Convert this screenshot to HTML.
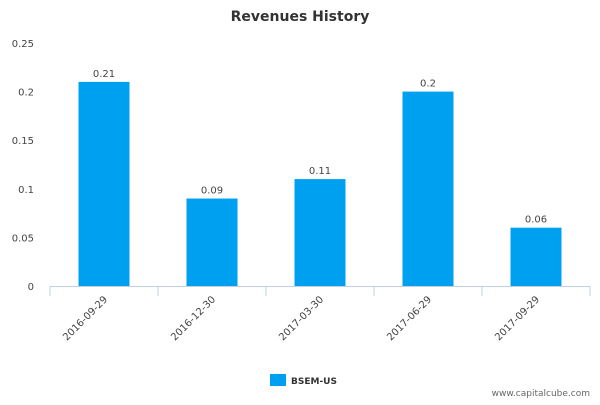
<!DOCTYPE html>
<html><head><meta charset="utf-8"><style>
body{margin:0;background:#fff;}
svg{font-family:"DejaVu Sans","Liberation Sans",sans-serif;}
</style></head><body>
<svg id="chart" width="600" height="400" viewBox="0 0 600 400">
<text x="300" y="21" text-anchor="middle" font-size="14" font-weight="bold" fill="#333">Revenues History</text>
<g id="yaxis"></g>
<g id="bars"></g>
<g id="xaxis"></g>
<g>
<rect x="270" y="374" width="16" height="12" fill="#00a0f0"/>
<text x="291" y="384" font-size="9" font-weight="bold" fill="#333">BSEM-US</text>
</g>
<text x="590" y="396" text-anchor="end" font-size="9" fill="#666">www.capitalcube.com</text>
</svg>
<script>
const categories=["2016-09-29","2016-12-30","2017-03-30","2017-06-29","2017-09-29"];
const values=[0.21,0.09,0.11,0.2,0.06];
const valueLabels=["0.21","0.09","0.11","0.2","0.06"];
const yTicks=[0,0.05,0.1,0.15,0.2,0.25];
const yTickLabels=["0","0.05","0.1","0.15","0.2","0.25"];
const NS="http://www.w3.org/2000/svg";
const plotLeft=50,plotRight=590,plotTop=43,plotBottom=286,yMax=0.25;
const yScale=v=>plotBottom-(v/yMax)*(plotBottom-plotTop);
const band=(plotRight-plotLeft)/categories.length;
const xc=i=>plotLeft+band*(i+0.5);
function mk(tag,attrs,parent,text){const e=document.createElementNS(NS,tag);for(const k in attrs)e.setAttribute(k,attrs[k]);if(text!==undefined)e.textContent=text;parent.appendChild(e);return e;}
const ya=document.getElementById('yaxis'),ba=document.getElementById('bars'),xa=document.getElementById('xaxis');
yTicks.forEach((t,i)=>{const e=mk('text',{x:34,y:yScale(t)+4,'text-anchor':'end','font-size':'10',fill:'#444'},ya,yTickLabels[i]);

});
const ax=mk('line',{x1:plotLeft,x2:plotRight,y1:plotBottom+0.5,y2:plotBottom+0.5,stroke:'#c0d0e0'},xa);


for(let i=0;i<=categories.length;i++){const tk=mk('line',{x1:plotLeft+band*i,x2:plotLeft+band*i,y1:plotBottom,y2:plotBottom+10,stroke:'#c0d0e0'},xa);

}
categories.forEach((c,i)=>{
const bw=51;
const r=mk('rect',{x:xc(i)-bw/2,y:yScale(values[i]),width:bw,height:plotBottom-yScale(values[i]),fill:'#00a0f0'},ba);


const vl=mk('text',{x:xc(i),y:yScale(values[i])-5,'text-anchor':'middle','font-size':'10',fill:'#444'},ba,valueLabels[i]);


const tx=xc(i)+4,ty=plotBottom+14;
const xl=mk('text',{x:tx,y:ty,'text-anchor':'end','font-size':'10',fill:'#444',transform:`rotate(-45 ${tx} ${ty})`},xa,c);


});
</script>
</body></html>
